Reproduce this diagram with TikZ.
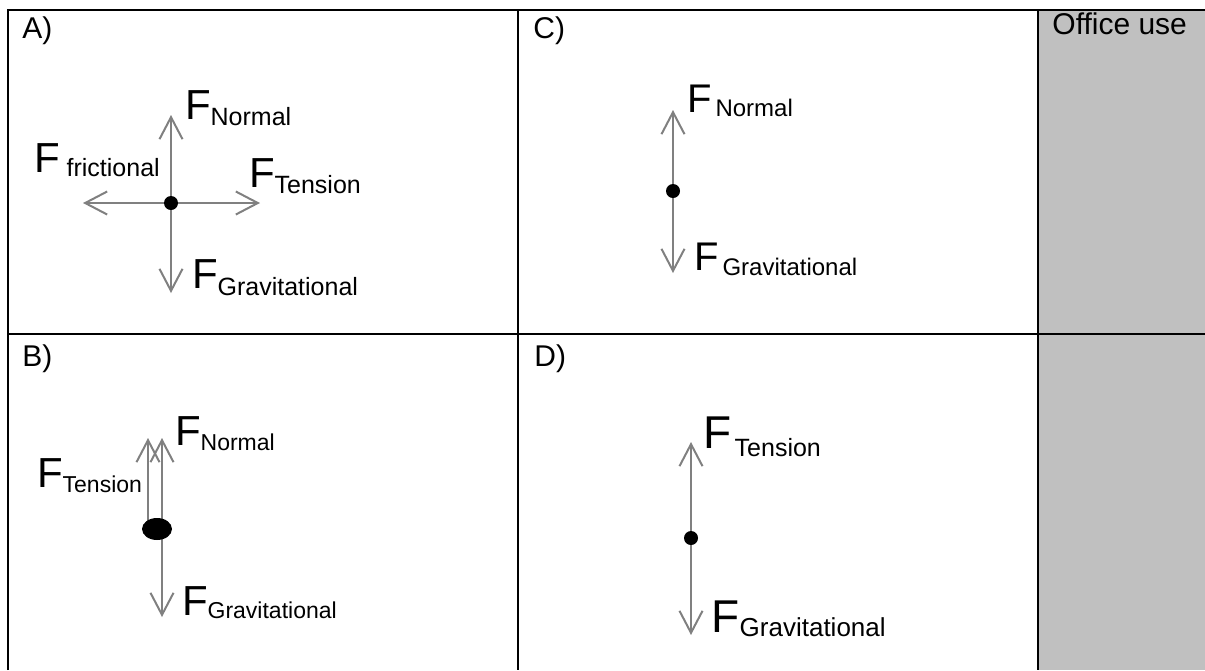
\documentclass[tikz,border=0pt]{standalone}
\usepackage{fontspec}
\setmainfont{Liberation Sans}
\usetikzlibrary{shapes.geometric,arrows.meta}
\definecolor{officegray}{RGB}{192,192,192}
\definecolor{arrowgray}{RGB}{128,128,128}
\newcommand{\forcelabel}[4]{{\fontsize{#1}{#1}\selectfont F}\raisebox{-#3}{\fontsize{#2}{#2}\selectfont #4}}
\tikzset{
  force/.style   ={draw=arrowgray,line width=1pt,
                   -{Straight Barb[length=11pt,width=11.5pt]}},
  particle/.style={circle,fill=black,inner sep=0pt,minimum size=7pt},
  flabel/.style  ={anchor=base west,inner sep=0pt},
  tag/.style     ={anchor=base west,inner sep=0pt,
                   font=\fontsize{15pt}{15pt}\selectfont}
}

\begin{document}
\begin{tikzpicture}[x=0.5pt,y=-0.5pt,
  grid/.style={line width=1pt,draw=black},
  blob/.style={ellipse,fill=black,inner sep=0pt,
               minimum width=15pt,minimum height=11pt}
]
  \useasboundingbox (0,0) rectangle (1205,670);

  % Table
  \fill[officegray] (1038,10) rectangle (1205,670);
  \draw[grid] (8,670) -- (8,10) -- (1205,10);
  \draw[grid] (8,334) -- (1205,334);
  \draw[grid] (518,10) -- (518,670);
  \draw[grid] (1038,10) -- (1038,670);

  % Cell labels
  \node[tag] (labA) at (22,38)  {A)};
  \node[tag] (labB) at (22,366) {B)};
  \node[tag] (labC) at (533,38) {C)};
  \node[tag] (labD) at (534,366) {D)};
  \node[tag] (office) at (1052,34) {Office use};

  % Panel A
  \node[particle] (dotA) at (171,203) {};
  \coordinate (tAN) at (171,115);
  \coordinate (tAG) at (171,293);
  \coordinate (tAF) at (83,203);
  \coordinate (tAT) at (260,203);
  \draw[force] (dotA) -- (tAN);
  \draw[force] (dotA) -- (tAG);
  \draw[force] (dotA) -- (tAF);
  \draw[force] (dotA) -- (tAT);
  \node[flabel] (fAN) at (184.6,119) {\forcelabel{21pt}{12.5pt}{3pt}{Normal}};
  \node[flabel] (fAF) at (33.6,172)  {\forcelabel{21pt}{12.5pt}{2pt}{\hspace{3.5pt}frictional}};
  \node[flabel] (fAT) at (248.6,187) {\forcelabel{21pt}{12.5pt}{3pt}{Tension}};
  \node[flabel] (fAG) at (191.6,288) {\forcelabel{21pt}{12.5pt}{3.5pt}{Gravitational}};

  % Panel B
  \coordinate (bB) at (157,529);
  \coordinate (tBT) at (148,438);
  \coordinate (tBN) at (162,438);
  \coordinate (tBG) at (162,617);
  \draw[force] (bB -| tBT) -- (tBT);
  \draw[force] (bB -| tBN) -- (tBN);
  \draw[force] (bB -| tBG) -- (tBG);
  \node[blob] (blobB) at (bB) {};
  \node[flabel] (fBN) at (174.6,445) {\forcelabel{21pt}{11.5pt}{2.5pt}{Normal}};
  \node[flabel] (fBT) at (36.6,487)  {\forcelabel{21pt}{11.5pt}{2.5pt}{Tension}};
  \node[flabel] (fBG) at (181.6,615) {\forcelabel{21pt}{11.5pt}{1.5pt}{Gravitational}};

  % Panel C
  \node[particle] (dotC) at (673,191) {};
  \coordinate (tCN) at (673,110);
  \coordinate (tCG) at (673,273);
  \draw[force] (dotC) -- (tCN);
  \draw[force] (dotC) -- (tCG);
  \node[flabel] (fCN) at (686.7,112) {\forcelabel{20pt}{12pt}{2pt}{\hspace{2pt}Normal}};
  \node[flabel] (fCG) at (693.7,270) {\forcelabel{20pt}{12pt}{2.5pt}{\hspace{2pt}Gravitational}};

  % Panel D
  \node[particle] (dotD) at (691,538) {};
  \coordinate (tDT) at (691,442);
  \coordinate (tDG) at (691,635);
  \draw[force] (dotD) -- (tDT);
  \draw[force] (dotD) -- (tDG);
  \node[flabel] (fDT) at (703.2,448) {\forcelabel{23pt}{12.5pt}{4pt}{\hspace{1.5pt}Tension}};
  \node[flabel] (fDG) at (711.2,632) {\forcelabel{23pt}{13pt}{2pt}{Gravitational}};
\end{tikzpicture}
\end{document}
